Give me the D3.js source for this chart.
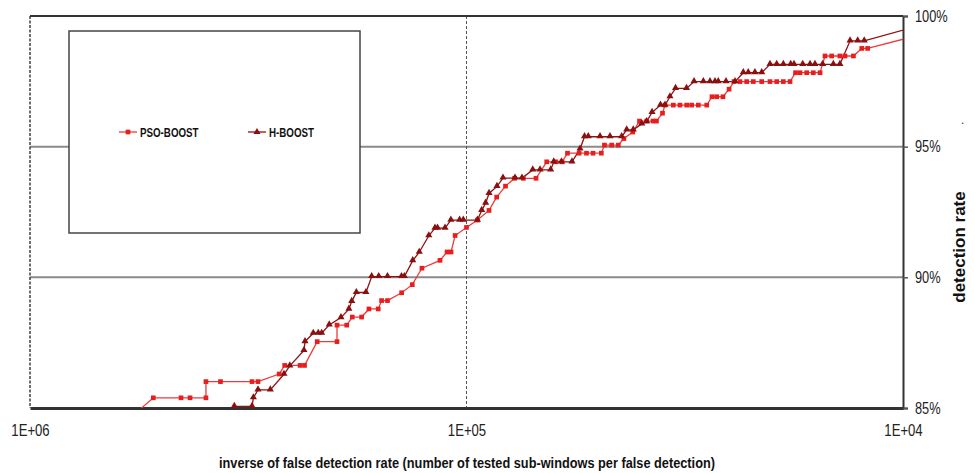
<!DOCTYPE html>
<html>
<head>
<meta charset="utf-8">
<script src="https://cdn.jsdelivr.net/npm/d3@7/dist/d3.min.js"></script>
<style>
  html, body { margin: 0; padding: 0; background: #fff; }
  svg { display: block; }
</style>
</head>
<body>
<svg id="chart" width="975" height="473"></svg>
<script>
// Inverse false detection rate (tested sub-windows per false detection) and detection rate (%)
const psoX = [590000, 521800, 450800, 429900, 395300, 395300, 366100, 310000, 300400, 268600,
  260900, 240600, 235000, 219800, 198000, 198000, 188100, 182700, 173900, 167300,
  159300, 156500, 151700, 140800, 133100, 126500, 115000, 110800, 108500, 106200,
  100000, 94400, 88800, 85300, 81400, 77600, 74100, 69300, 65500, 62400,
  60400, 58700, 55200, 53100, 51300, 49100, 48300, 46500, 44900, 43600,
  41600, 40150, 38660, 37390, 36710, 35560, 35090, 33590, 32430, 31300,
  30490, 29440, 28160, 27390, 26720, 25850, 25030, 24390, 23630, 22810,
  22030, 21070, 20170, 19470, 18800, 18150, 17630, 17220, 16620, 16050,
  15490, 15090, 14570, 13950, 13580, 12990, 12430, 12050, 9140];
const psoY = [84.62, 85.39, 85.39, 85.39, 85.39, 86.01, 86.01, 86.01, 86.01, 86.30,
  86.63, 86.63, 86.63, 87.54, 87.54, 88.17, 88.17, 88.48, 88.48, 88.79,
  88.79, 89.11, 89.11, 89.41, 89.72, 90.35, 90.65, 90.97, 90.97, 91.60,
  91.91, 92.19, 92.56, 93.07, 93.49, 93.79, 93.79, 93.79, 94.42, 94.42,
  94.42, 94.75, 94.75, 94.75, 94.75, 94.75, 95.06, 95.06, 95.06, 95.31,
  95.56, 95.98, 95.98, 95.98, 95.98, 96.28, 96.59, 96.59, 96.59, 96.59,
  96.59, 96.59, 96.59, 96.91, 96.91, 96.91, 97.20, 97.49, 97.49, 97.49,
  97.49, 97.49, 97.49, 97.49, 97.49, 97.49, 97.83, 97.83, 97.83, 97.83,
  97.83, 98.47, 98.47, 98.47, 98.47, 98.47, 98.76, 98.76, 99.28];

const hbX = [340400, 310000, 307800, 300400, 281500, 261900, 254000, 235700, 234400, 224400,
  218600, 214700, 206300, 193900, 186000, 183200, 178800, 170000, 164900, 158900,
  151700, 140900, 138800, 132800, 128300, 122000, 118100, 116500, 112000, 108600,
  103700, 101700, 94400, 92300, 90400, 88800, 85150, 82500, 77420, 74630,
  70510, 67850, 64140, 63120, 60590, 57330, 54950, 53660, 52600, 49450,
  46910, 44120, 42950, 41490, 39680, 38660, 37580, 35940, 35090, 34190,
  33200, 31330, 30110, 28670, 27680, 26960, 26500, 25440, 24260, 23220,
  22620, 21840, 21070, 20170, 19470, 18800, 18080, 17770, 16970, 16330,
  15910, 15280, 14440, 13950, 13220, 12700, 12270, 9140];
const hbY = [85.06, 85.06, 85.39, 85.69, 85.69, 86.29, 86.61, 87.20, 87.54, 87.86,
  87.86, 87.86, 88.18, 88.46, 88.78, 89.08, 89.42, 89.42, 90.03, 90.03,
  90.03, 90.03, 90.03, 90.64, 90.96, 91.59, 91.88, 91.88, 91.88, 92.19,
  92.19, 92.19, 92.19, 92.56, 92.84, 93.21, 93.48, 93.80, 93.80, 93.80,
  94.11, 94.11, 94.11, 94.42, 94.42, 94.42, 94.91, 95.38, 95.38, 95.38,
  95.38, 95.38, 95.64, 95.64, 95.87, 95.96, 96.31, 96.59, 96.59, 96.91,
  97.23, 97.23, 97.49, 97.49, 97.49, 97.49, 97.49, 97.49, 97.49, 97.83,
  97.83, 97.83, 97.83, 98.15, 98.15, 98.15, 98.15, 98.15, 98.15, 98.15,
  98.15, 98.15, 98.15, 98.15, 99.05, 99.05, 99.05, 99.64];

const xTicks = [1e6, 1e5, 1e4];
const xTickLabels = ["1E+06", "1E+05", "1E+04"];
const yTicks = [85, 90, 95, 100];
const yTickLabels = ["85%", "90%", "95%", "100%"];
const seriesNames = ["PSO-BOOST", "H-BOOST"];

const FONT = "'Liberation Sans', Arial, sans-serif";
const svg = d3.select("#chart");
const plotL = 30, plotR = 903, plotT = 16, plotB = 408;

// squeeze text horizontally to mimic a narrow typeface
function narrow(sel, factor) {
  sel.each(function () {
    const w = this.getComputedTextLength();
    d3.select(this).attr("textLength", w * factor).attr("lengthAdjust", "spacingAndGlyphs");
  });
}

const x = d3.scaleLog().domain([1e6, 1e4]).range([plotL, plotR]);
const y = d3.scaleLinear().domain([85, 100]).range([plotB, plotT]);

svg.append("defs").append("clipPath").attr("id", "plotClip")
  .append("rect").attr("x", plotL).attr("y", plotT).attr("width", plotR - plotL).attr("height", plotB - plotT);

// horizontal gridlines at the inner percent levels
svg.append("g").selectAll("line").data(yTicks.filter(v => v > 85 && v < 100)).join("line")
  .attr("x1", plotL).attr("x2", plotR)
  .attr("y1", d => y(d)).attr("y2", d => y(d))
  .attr("stroke", "#8a8a8a").attr("stroke-width", 2);

// dashed vertical line at the middle decade
svg.append("line")
  .attr("x1", x(1e5)).attr("x2", x(1e5)).attr("y1", plotT).attr("y2", plotB)
  .attr("stroke", "#555").attr("stroke-width", 1).attr("stroke-dasharray", "3,2");

// frame: dashed left edge, solid top, right axis and bottom axis
svg.append("line").attr("x1", plotL).attr("x2", plotL).attr("y1", plotT).attr("y2", plotB)
  .attr("stroke", "#333").attr("stroke-width", 1.4).attr("stroke-dasharray", "3,1.5");
svg.append("line").attr("x1", plotL).attr("x2", plotR).attr("y1", plotT).attr("y2", plotT)
  .attr("stroke", "#333").attr("stroke-width", 2);

// right y axis with percent labels
const yAxis = d3.axisRight(y).tickValues(yTicks).tickSize(5).tickPadding(7)
  .tickFormat((d, i) => yTickLabels[i]);
const gy = svg.append("g").attr("transform", `translate(${plotR},0)`).call(yAxis);
gy.select(".domain").attr("stroke", "#333").attr("stroke-width", 2);
gy.selectAll(".tick line").attr("stroke", "#555").attr("stroke-width", 1.5);
gy.selectAll(".tick text").attr("font-family", FONT)
  .attr("font-size", 16).attr("fill", "#222").call(narrow, 0.8);

// bottom x axis with decade labels
const xAxis = d3.axisBottom(x).tickValues(xTicks).tickSize(0).tickPadding(17)
  .tickFormat((d, i) => xTickLabels[i]);
const gx = svg.append("g").attr("transform", `translate(0,${plotB})`).call(xAxis);
gx.select(".domain").attr("stroke", "#333").attr("stroke-width", 3);
gx.selectAll(".tick text").attr("font-family", FONT)
  .attr("font-size", 16).attr("fill", "#222").call(narrow, 0.82);

// axis titles
svg.append("text").attr("x", 467).attr("y", 468).attr("text-anchor", "middle")
  .attr("font-family", FONT)
  .attr("font-weight", "bold").attr("font-size", 15).attr("fill", "#111")
  .text("inverse of false detection rate (number of tested sub-windows per false detection)")
  .call(narrow, 0.85);
svg.append("text").attr("transform", "translate(965,247) rotate(-90)").attr("text-anchor", "middle")
  .attr("font-family", FONT)
  .attr("font-weight", "bold").attr("font-size", 17).attr("fill", "#111")
  .text("detection rate");
svg.append("text").attr("x", 961).attr("y", 124).attr("font-family", FONT)
  .attr("font-size", 12).attr("fill", "#333").text(".");

// series
const pso = psoX.map((v, i) => ({ x: v, y: psoY[i] }));
const hb = hbX.map((v, i) => ({ x: v, y: hbY[i] }));
const line = d3.line().x(d => x(d.x)).y(d => y(d.y));

const plot = svg.append("g").attr("clip-path", "url(#plotClip)");
plot.append("path").datum(pso).attr("d", line).attr("fill", "none")
  .attr("stroke", "#f03a3a").attr("stroke-width", 1.3);
plot.append("path").datum(hb).attr("d", line).attr("fill", "none")
  .attr("stroke", "#8e1212").attr("stroke-width", 1.3);

const sq = d3.symbol().type(d3.symbolSquare).size(22);
const tri = d3.symbol().type(d3.symbolTriangle).size(22);
plot.append("g").selectAll("path").data(pso).join("path")
  .attr("transform", d => `translate(${x(d.x)},${y(d.y)})`).attr("d", sq).attr("fill", "#e81e1e");
plot.append("g").selectAll("path").data(hb).join("path")
  .attr("transform", d => `translate(${x(d.x)},${y(d.y) - 0.5})`).attr("d", tri).attr("fill", "#8a0f0f");

// legend box
const lg = svg.append("g");
lg.append("rect").attr("x", 69).attr("y", 31).attr("width", 291).attr("height", 202)
  .attr("fill", "#fff").attr("stroke", "#444").attr("stroke-width", 1.5);
const legendItems = [
  { name: seriesNames[0], lx: 119, color: "#f03a3a", mark: "#e81e1e", sym: sq },
  { name: seriesNames[1], lx: 248, color: "#8e1212", mark: "#8a0f0f", sym: tri }
];
legendItems.forEach(it => {
  lg.append("line").attr("x1", it.lx).attr("x2", it.lx + 18).attr("y1", 132).attr("y2", 132)
    .attr("stroke", it.color).attr("stroke-width", 1.3);
  lg.append("path").attr("transform", `translate(${it.lx + 9},132)`).attr("d", it.sym).attr("fill", it.mark);
  lg.append("text").attr("x", it.lx + 21).attr("y", 136.5)
    .attr("font-family", FONT)
    .attr("font-weight", "bold").attr("font-size", 12.5).attr("fill", "#111").text(it.name)
    .call(narrow, 0.78);
});
</script>
</body>
</html>
